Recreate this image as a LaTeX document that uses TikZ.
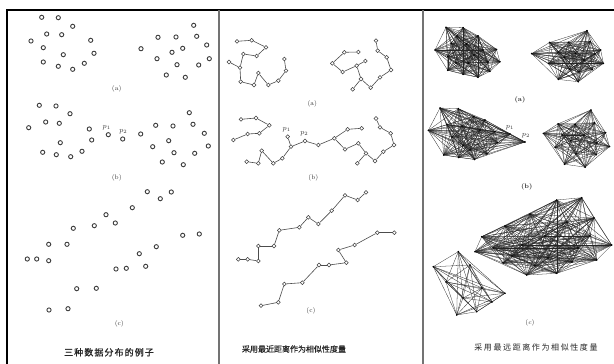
\documentclass[tikz,border=0pt]{standalone}
\usepackage{fontspec}
\newfontfamily\cjkA{Noto Sans CJK SC}[LetterSpace=12,FakeBold=1]
\newfontfamily\cjkB{Noto Sans CJK SC}[FakeBold=0.6]
\newfontfamily\cjkC{Noto Sans CJK SC}[LetterSpace=20]
\begin{document}
\begin{tikzpicture}[x=1pt,y=-1pt,
  ring/.style={circle,draw=black!75,line width=0.9pt,inner sep=0pt,minimum size=4.2pt},
  cdot/.style={circle,draw=black!75,line width=0.55pt,fill=white,inner sep=0pt,minimum size=3.8pt},
  cedge/.style={draw=black!70,line width=0.6pt},
  kedge/.style={draw=black!85,line width=0.28pt},
  lab/.style={font=\fontsize{6.5}{7}\selectfont,text=black!80},
  plab/.style={font=\fontsize{7.5}{8}\selectfont,text=black!80},
  frame/.style={line width=2pt,draw=black},
  divider/.style={line width=1.6pt,draw=black!55}]

\useasboundingbox (0,0) rectangle (614,364);
\fill[white] (0,0) rectangle (614,364);

% ---------------- frame ----------------
\coordinate (tl) at (6,10);
\coordinate (tr) at (614,10);
\coordinate (bl) at (7,364);
\coordinate (d1t) at (219,10);
\coordinate (d1b) at (219,364);
\coordinate (d2t) at (423,10);
\coordinate (d2b) at (423,364);
\draw[frame] (tl) -- (tr);
\draw[frame] (7,10) -- (bl);
\draw[divider] (d1t) -- (d1b);
\draw[divider] (d2t) -- (d2b);

% ---------------- left panel: raw data ----------------
\foreach \x/\y [count=\i] in {41.7/17.3,58.3/17.7,72.7/26.3,46.7/34,61.7/34.7,31/41,43.3/47.7,90.7/40.3,63.3/54.7,94/53.3,43.3/62,58.3/66.3,72.7/69.3,84.3/63.3,
  193.7/25.3,158/37.3,176/37,196.7/36.3,206.7/45,141/48.7,172/52.3,182.7/48.3,157/58.7,209.3/58.7,177/64.7,198.7/65,166.3/75,185.3/77.3}
  \node[ring] (la\i) at (\x,\y) {};
\foreach \x/\y [count=\i] in {39.3/105.3,56/106,70/113.7,45.7/122,59.3/123.3,28.7/127.7,89.3/129,60.3/142.7,91.7/140,42.7/152.3,56.3/154.7,70.7/156.7,82/151.3,108.3/134.7,122.7/139,
  140.7/134,155.7/125.3,173/126,193/124.3,189.3/112.7,204.3/133.3,208.3/146,152.7/146.7,168.7/140.7,174/152.7,194.7/153.3,162.3/162,183.3/164.7}
  \node[ring] (lb\i) at (\x,\y) {};
\foreach \x/\y [count=\i] in {27.3/259,36.7/259,48.7/260.7,48.7/244.3,67/244.3,73.3/228.3,94.3/225.7,106/214.7,115.3/223,132.3/207.7,147.3/191.7,160.3/198.7,171.3/192,
  49/310,68/308.7,76.7/288.7,96.3/288.3,116/269,126.3/268.3,145.7/266.3,139.3/253.7,156.3/246.7,182.7/235.3,199.3/234}
  \node[ring] (lc\i) at (\x,\y) {};
\node[lab] (lla) at (116.7,89.3) {(a)};
\node[lab] (llb) at (116.7,178.3) {(b)};
\node[lab] (llc) at (119.3,324.3) {(c)};
\node[plab] (lp1) at (106.7,127.3) {$p_1$};
\node[plab] (lp2) at (123.3,132) {$p_2$};
\node[font=\cjkA\fontsize{9}{10}\selectfont,text=black!85] (cap1) at (109,352.3) {三种数据分布的例子};

% ---------------- middle panel: nearest-distance chains ----------------
\foreach \x/\y [count=\i] in {237/41.3,251.7/40.3,266/47.3,256.7/56,243.3/54,240/67.7,229/62,240.7/81.7,254/85,258.3/73,268.3/85,278.3/80.7,286/70.7,284.3/59}
  \node[cdot] (ma\i) at (\x,\y) {};
\foreach \a/\b in {1/2,2/3,3/4,4/5,5/6,7/6,6/8,8/9,9/10,10/11,11/12,12/13,13/14}
  \draw[cedge] (ma\a) -- (ma\b);
\foreach \x/\y [count=\i] in {376/40.7,377.7/50.7,386.7/57.3,391/70,380/77.3,370.7/87.7,361/79,352.7/89.3,356.7/65.7,365.3/61,342.7/72,332.3/63.3,344.3/52.3,358.3/52}
  \node[cdot] (mb\i) at (\x,\y) {};
\foreach \a/\b in {1/2,2/3,3/4,4/5,5/6,6/7,7/8,7/9,9/10,9/11,11/12,12/13,13/14}
  \draw[cedge] (mb\a) -- (mb\b);
\foreach \x/\y [count=\i] in {241/119.3,256/118,269.3/125.3,259.3/133.3,247.7/134,233.3/140,
  246.7/161.7,258.3/163.3,261.7/150.7,273.3/163.3,282.3/158.3,291/146.7,287.7/136.7,305/141,318.3/145,
  334.3/138.3,347.7/129.3,361.7/128.3,345/149.3,358.3/143.3,366/153.3,357.3/163.3,375/161,383.3/151.7,394/145,390.7/133.3,380/127.3,376/118.5}
  \node[cdot] (mc\i) at (\x,\y) {};
\foreach \a/\b in {1/2,2/3,3/4,4/5,5/6,7/8,8/9,9/10,10/11,11/12,12/13,12/14,14/15,15/16,16/17,17/18,16/19,19/20,20/21,21/22,21/23,23/24,24/25,25/26,26/27,27/28}
  \draw[cedge] (mc\a) -- (mc\b);
\foreach \x/\y [count=\i] in {238.3/259.3,247.7/259.3,258.3/261,258.3/246,274/246,279.3/230.3,299.3/227.3,308.3/217.3,318.3/224,331.7/210.7,345/195.3,357.7/200,366/192.3}
  \node[cdot] (md\i) at (\x,\y) {};
\foreach \a [count=\b from 2] in {1,...,12}
  \draw[cedge] (md\a) -- (md\b);
\foreach \x/\y [count=\i] in {261/305.7,278.3/302.3,284.3/284,302.3/282.7,319/265,329/265,346.3/262.7,338.3/250,354.7/245,377.3/232.7,394.3/232.7}
  \node[cdot] (me\i) at (\x,\y) {};
\foreach \a [count=\b from 2] in {1,...,10}
  \draw[cedge] (me\a) -- (me\b);
\node[lab] (mla) at (312.3,104.3) {(a)};
\node[lab] (mlb) at (313.3,178.3) {(b)};
\node[lab] (mlc) at (311,311) {(c)};
\node[plab] (mp1) at (286.7,129.3) {$p_1$};
\node[plab] (mp2) at (304.3,134) {$p_2$};
\node[font=\cjkB\fontsize{8}{10}\selectfont,text=black!85] (cap2) at (294,349) {采用最近距离作为相似性度量};

% ---------------- right panel: farthest-distance complete graphs ----------------
% (a) left cluster
\foreach \x/\y [count=\i] in {446/27.3,463.1/27.7,478/35.9,451.2/43.3,466.6/44,435/50,447.7/56.5,496.5/49.4,468.3/63.2,499.9/61.8,447.7/70.2,463.1/74.3,478/77.2,489.9/71.4,
  457/36,483/50,456/63,474/55,488/62}
  \coordinate (ka\i) at (\x,\y);
\foreach \i in {1,...,18}{\pgfmathtruncatemacro\s{\i+1}
  \foreach \j in {\s,...,19}{\draw[kedge] (ka\i) -- (ka\j);}}
\foreach \i in {1,...,19} \fill (ka\i) circle (0.9pt);
% (a) right cluster
\foreach \x/\y [count=\i] in {587/30.7,549.6/42.5,568.5/42.2,590.2/41.5,600.7/50,531.7/53.6,564.3/57.2,575.5/53.2,548.5/63.4,603.4/63.4,569.5/69.3,592.3/69.6,558.3/79.4,578.2/81.7,
  558/52,584/60,579/72,595/54}
  \coordinate (kb\i) at (\x,\y);
\foreach \i in {1,...,17}{\pgfmathtruncatemacro\s{\i+1}
  \foreach \j in {\s,...,18}{\draw[kedge] (kb\i) -- (kb\j);}}
\foreach \i in {1,...,18} \fill (kb\i) circle (0.9pt);
% (b) left cluster, including p1 and p2
\foreach \x/\y [count=\i] in {440/108,458.3/108.7,473.7/116.4,447/124.7,462/126,428.3/130.4,495/131.7,463.1/145.4,497.6/142.7,443.7/155,458.7/157.4,474.5/159.4,487/154,510/134,525/142,
  452/137,480/130,470/150,485/120}
  \coordinate (kc\i) at (\x,\y);
\foreach \i in {1,...,18}{\pgfmathtruncatemacro\s{\i+1}
  \foreach \j in {\s,...,19}{\draw[kedge] (kc\i) -- (kc\j);}}
\foreach \i in {1,...,19} \fill (kc\i) circle (0.9pt);
% (b) right cluster
\foreach \x/\y [count=\i] in {543.3/133.4,558/123.9,575/124.6,594.6/122.8,590.9/110,605.6/132.7,609.5/146.6,555.1/147.4,570.7/140.8,575.9/154,596.2/154.7,564.5/164.2,585.1/167.2,
  584/135,562/135,597/143}
  \coordinate (kd\i) at (\x,\y);
\foreach \i in {1,...,15}{\pgfmathtruncatemacro\s{\i+1}
  \foreach \j in {\s,...,16}{\draw[kedge] (kd\i) -- (kd\j);}}
\foreach \i in {1,...,16} \fill (kd\i) circle (0.9pt);
% (c) large cluster
\foreach \x/\y [count=\i] in {475/251.7,481.7/236.7,505/226,530/214,556.7/200,581.7/197.7,594/218,611.7/245,596.7/260,556.7/273.3,526.7/275,503/263,522/245,545/236,567/222,578/248,548/258,590/236,
  493/248,512/256,535/266,572/262}
  \coordinate (ke\i) at (\x,\y);
\foreach \i in {1,...,21}{\pgfmathtruncatemacro\s{\i+1}
  \foreach \j in {\s,...,22}{\draw[kedge] (ke\i) -- (ke\j);}}
\foreach \i in {1,...,22} \fill (ke\i) circle (0.9pt);
% (c) small cluster
\foreach \x/\y [count=\i] in {433.3/266.7,458.3/251.7,505/293.3,476.7/311.7,456.7/315,446/282,470/265,482/288,463/298,492/302}
  \coordinate (kf\i) at (\x,\y);
\foreach \i in {1,...,9}{\pgfmathtruncatemacro\s{\i+1}
  \foreach \j in {\s,...,10}{\draw[kedge] (kf\i) -- (kf\j);}}
\foreach \i in {1,...,10} \fill (kf\i) circle (0.9pt);
\node[lab,font=\bfseries\fontsize{6.5}{7}\selectfont] (rla) at (520,100) {(a)};
\node[lab,font=\bfseries\fontsize{6.5}{7}\selectfont] (rlb) at (526.7,186.7) {(b)};
\node[lab] (rlc) at (530,323.3) {($c$)};
\node[plab] (rp1) at (510,128) {$p_1$};
\node[plab] (rp2) at (526,135.5) {$p_2$};
\node[font=\cjkC\fontsize{8}{10}\selectfont,text=black!85] (cap3) at (536,347.3) {采用最远距离作为相似性度量};
\end{tikzpicture}
\end{document}
